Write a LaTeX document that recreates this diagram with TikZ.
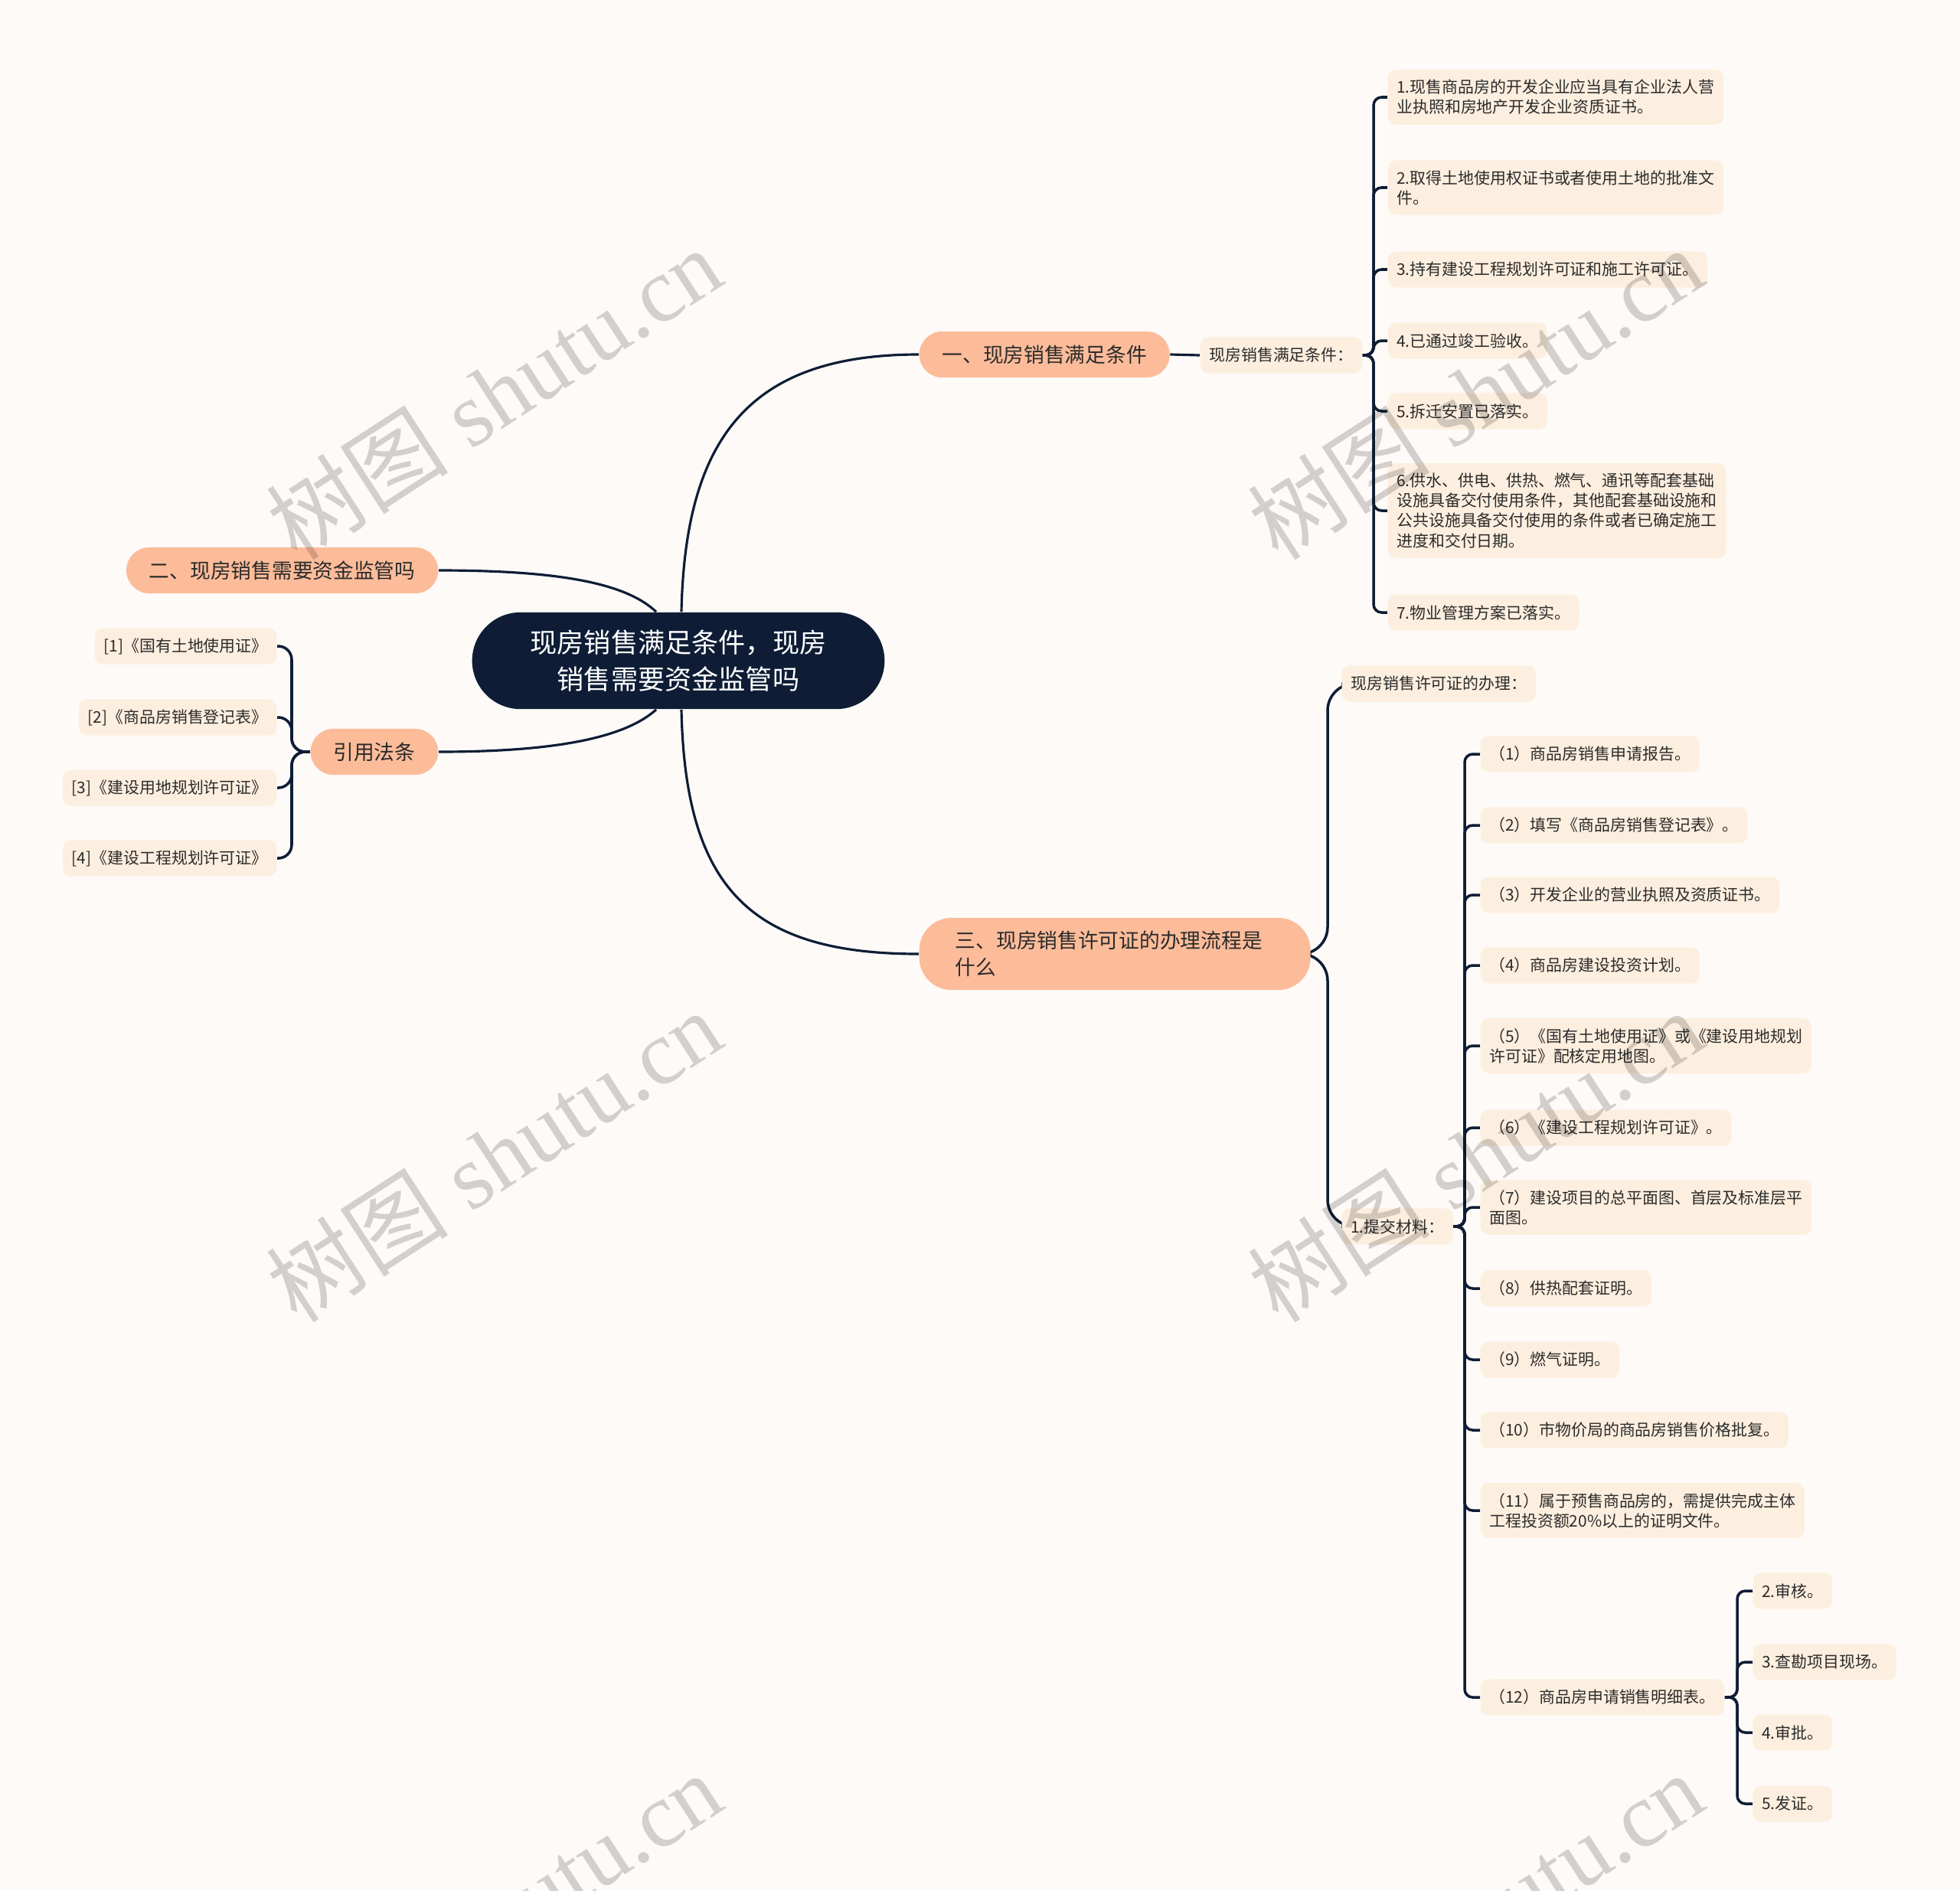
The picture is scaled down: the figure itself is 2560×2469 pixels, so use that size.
\documentclass[tikz,border=0pt]{standalone}
\usepackage{fontspec}
\newfontfamily\cjk{Noto Sans CJK SC}
\newfontfamily\wmlat{Liberation Serif}
\usetikzlibrary{calc}
\definecolor{bgc}{HTML}{FEFAF7}
\definecolor{salmon}{HTML}{FCBC9A}
\definecolor{cream}{HTML}{FDEFDF}
\definecolor{navy}{HTML}{0E1D35}
\definecolor{txt}{HTML}{2B2B2B}
\pgfdeclarelayer{bg}
\pgfdeclarelayer{edges}
\pgfsetlayers{bg,edges,main}
\begin{document}
\begin{tikzpicture}[x=0.01cm,y=-0.01cm,
  rootbox/.style={fill=navy, text=white, rounded corners=18pt, align=center, inner xsep=21.6pt, inner ysep=6.5pt, font=\cjk\fontsize{10}{13.7}\selectfont},
  topicbox/.style={fill=salmon, text=txt, rounded corners=8.5pt, inner xsep=8.5pt, inner ysep=4.75pt, minimum height=17.1pt, font=\cjk\fontsize{7.6}{9.8}\selectfont, align=left},
  leafbox/.style={fill=cream, text=txt, rounded corners=3pt, inner xsep=3.3pt, inner ysep=3.7pt, minimum height=13.4pt, font=\cjk\fontsize{5.95}{7.4}\selectfont, align=left},
  link/.style={draw=navy, line width=0.9pt},
  fork/.style={draw=navy, line width=1pt, rounded corners=3pt},
  bigfork/.style={draw=navy, line width=1pt, rounded corners=10pt},
  wmark/.style={rotate=33, text=black, text opacity=0.17, font=\wmlat\fontsize{34}{37}\selectfont},
]
\begin{pgfonlayer}{bg}
\fill[bgc] (0,0) rectangle (2560,2469);
\end{pgfonlayer}
\useasboundingbox (0,0) rectangle (2560,2469);

% root and topics
\node[rootbox] (root) at (886,863) {现房销售满足条件，现房\\销售需要资金监管吗};
\node[topicbox, anchor=west] (t1) at (1200,463) {一、现房销售满足条件};
\node[topicbox, anchor=east] (t2) at (573,745) {二、现房销售需要资金监管吗};
\node[topicbox, anchor=east] (t4) at (573,982) {引用法条};
\node[topicbox, anchor=west, rounded corners=12pt, inner xsep=13.4pt, inner ysep=5pt, text width=118.5pt] (t3) at (1200,1246) {三、现房销售许可证的办理流程是\\什么};

% branch 1
\node[leafbox, anchor=west] (c1) at (1567,464) {现房销售满足条件：};
\node[leafbox, anchor=west] (a1) at (1812,127) {1.现售商品房的开发企业应当具有企业法人营\\业执照和房地产开发企业资质证书。};
\node[leafbox, anchor=west] (a2) at (1812,245) {2.取得土地使用权证书或者使用土地的批准文\\件。};
\node[leafbox, anchor=west] (a3) at (1812,352) {3.持有建设工程规划许可证和施工许可证。};
\node[leafbox, anchor=west] (a4) at (1812,445) {4.已通过竣工验收。};
\node[leafbox, anchor=west] (a5) at (1812,537) {5.拆迁安置已落实。};
\node[leafbox, anchor=west] (a6) at (1812,667) {6.供水、供电、供热、燃气、通讯等配套基础\\设施具备交付使用条件，其他配套基础设施和\\公共设施具备交付使用的条件或者已确定施工\\进度和交付日期。};
\node[leafbox, anchor=west] (a7) at (1812,800) {7.物业管理方案已落实。};

% citations
\node[leafbox, anchor=east] (r1) at (362,844) {[1]《国有土地使用证》};
\node[leafbox, anchor=east] (r2) at (362,937) {[2]《商品房销售登记表》};
\node[leafbox, anchor=east] (r3) at (362,1029) {[3]《建设用地规划许可证》};
\node[leafbox, anchor=east] (r4) at (362,1121) {[4]《建设工程规划许可证》};

% branch 3
\node[leafbox, anchor=west] (d1) at (1752,893) {现房销售许可证的办理：};
\node[leafbox, anchor=west] (d2) at (1752,1602) {1.提交材料：};
\node[leafbox, anchor=west] (e1) at (1933,985) {（1）商品房销售申请报告。};
\node[leafbox, anchor=west] (e2) at (1933,1078) {（2）填写《商品房销售登记表》。};
\node[leafbox, anchor=west] (e3) at (1933,1169) {（3）开发企业的营业执照及资质证书。};
\node[leafbox, anchor=west] (e4) at (1933,1261) {（4）商品房建设投资计划。};
\node[leafbox, anchor=west] (e5) at (1933,1366) {（5）《国有土地使用证》或《建设用地规划\\许可证》配核定用地图。};
\node[leafbox, anchor=west] (e6) at (1933,1473) {（6）《建设工程规划许可证》。};
\node[leafbox, anchor=west] (e7) at (1933,1577) {（7）建设项目的总平面图、首层及标准层平\\面图。};
\node[leafbox, anchor=west] (e8) at (1933,1683) {（8）供热配套证明。};
\node[leafbox, anchor=west] (e9) at (1933,1776) {（9）燃气证明。};
\node[leafbox, anchor=west] (e10) at (1933,1868) {（10）市物价局的商品房销售价格批复。};
\node[leafbox, anchor=west] (e11) at (1933,1973) {（11）属于预售商品房的，需提供完成主体\\工程投资额20\%以上的证明文件。};
\node[leafbox, anchor=west] (e12) at (1933,2217) {（12）商品房申请销售明细表。};
\node[leafbox, anchor=west] (f1) at (2289,2078) {2.审核。};
\node[leafbox, anchor=west] (f2) at (2289,2171) {3.查勘项目现场。};
\node[leafbox, anchor=west] (f3) at (2289,2263) {4.审批。};
\node[leafbox, anchor=west] (f4) at (2289,2356) {5.发证。};

\begin{pgfonlayer}{edges}
\draw[link] ($(root.north)+(4,0)$) .. controls +(5,-229) and +(-220,0) .. (t1.west);
\draw[link] ($(root.south)+(4,0)$) .. controls +(5,233) and +(-220,0) .. (t3.west);
\draw[link] (t2.east) .. controls +(167,0) and +(-37,-35) .. ($(root.north)+(-29,0)$);
\draw[link] (t4.east) .. controls +(167,0) and +(-37,33) .. ($(root.south)+(-29,0)$);
\draw[link] (t1.east) -- (c1.west);
\foreach \n in {a1,a2,a3,a4,a5,a6,a7}
  \draw[fork] (c1.east) -| ($(\n.west)+(-18,0)$) -- (\n.west);
\foreach \n in {r1,r2,r3,r4}
  \draw[fork, rounded corners=5pt] (t4.west) -| ($(\n.east)+(19,0)$) -- (\n.east);
\foreach \n in {d1,d2}
  \draw[bigfork] (t3.east) -| ($(\n.west)+(-18,0)$) -- (\n.west);
\foreach \n in {e1,e2,e3,e4,e5,e6,e7,e8,e9,e10,e11,e12}
  \draw[fork] (d2.east) -| ($(\n.west)+(-20,0)$) -- (\n.west);
\foreach \n in {f1,f2,f3,f4}
  \draw[fork] (e12.east) -| ($(\n.west)+(-20,0)$) -- (\n.west);
\end{pgfonlayer}

% watermarks
\begin{scope}
\clip (0,0) rectangle (2560,2469);
\foreach \x/\y in {645/514, 1927/514, 645/1510, 1927/1510, 645/2506, 1927/2506}
  \node[wmark] at (\x,\y) {{\cjk 树图} shutu.cn};
\end{scope}
\end{tikzpicture}
\end{document}
